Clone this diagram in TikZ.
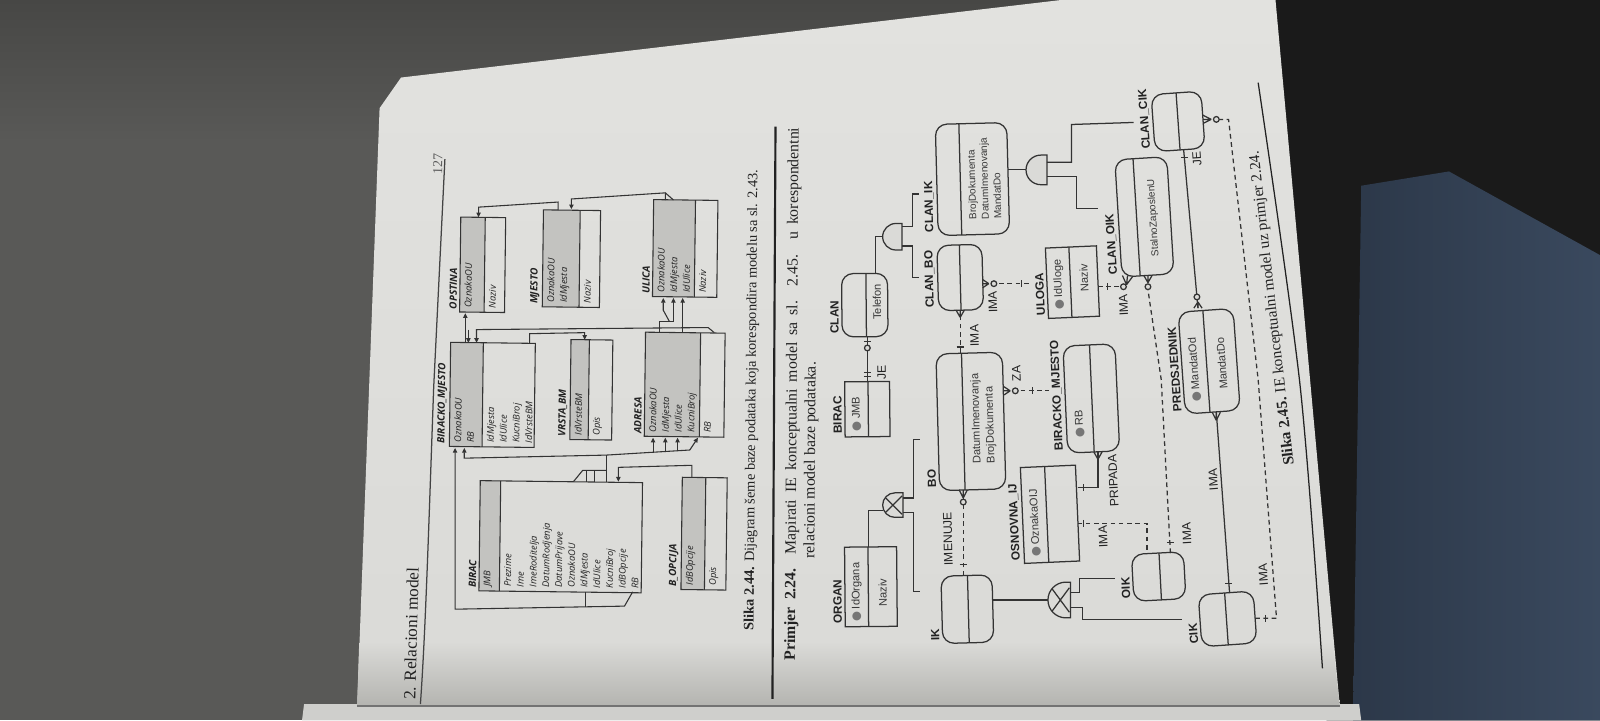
\documentclass[tikz,border=0pt]{standalone}
\usepackage{fontspec}
\setmainfont{Liberation Serif}
\newfontfamily\iefont{Liberation Sans}
\newfontfamily\relfont{Open Sans}
\newfontfamily\symfont{DejaVu Sans}
\usetikzlibrary{calc,arrows.meta}

\definecolor{bgleft}{HTML}{595957}
\definecolor{bgtop}{HTML}{474745}
\definecolor{bgdark}{HTML}{1a1a1a}
\definecolor{fabric}{HTML}{2c3849}
\definecolor{fabriclight}{HTML}{3a495e}
\definecolor{paper}{HTML}{dadad7}
\definecolor{paperlight}{HTML}{e2e2df}
\definecolor{spine}{HTML}{b4b4b0}
\definecolor{facing}{HTML}{cfcfcc}
\definecolor{ink}{HTML}{222222}
\definecolor{lineink}{HTML}{333333}
\definecolor{keygrey}{HTML}{c3c3c0}
\definecolor{icongrey}{HTML}{767676}

\tikzset{
  tline/.style={draw=lineink, line width=0.3pt},
  rtbl/.style={inner sep=0pt, outer sep=0pt, draw=none},
  rtitle/.style={font=\relfont\bfseries\itshape\fontsize{2.8}{3.2}\selectfont, text=ink, inner sep=0.6pt, anchor=south west},
  rattr/.style={font=\relfont\itshape\fontsize{2.6}{3.55}\selectfont, text=ink, inner xsep=1pt, inner ysep=1.1pt, anchor=north west, align=left},
  fk/.style={tline, -{Triangle[length=1.3pt,width=1.2pt]}},
  ent/.style={draw=lineink, line width=0.35pt, inner sep=0pt, outer sep=0pt},
  dep/.style={ent, rounded corners=3.2pt},
  elabel/.style={font=\iefont\bfseries\fontsize{3.3}{4}\selectfont, text=ink, inner sep=0.7pt, anchor=south west},
  eattr/.style={font=\iefont\fontsize{3.1}{3.9}\selectfont, text=ink!90, anchor=west, align=left, inner ysep=0pt},
  esmall/.style={eattr, font=\iefont\fontsize{2.8}{3.5}\selectfont},
  rlabel/.style={font=\iefont\fontsize{3.4}{4}\selectfont, text=ink},
  rel/.style={draw=lineink, line width=0.35pt},
  nrel/.style={rel, dash pattern=on 1.3pt off 1pt},
  sym/.style={draw=lineink, line width=0.35pt},
  body/.style={font=\fontsize{4.4}{5.3}\selectfont, text=ink, inner sep=0pt},
  capt/.style={font=\fontsize{4}{4.8}\selectfont, text=ink, inner sep=0pt},
}

% relational table: name, cx, cy, page width, page height, key fraction, key rows, other rows, title
\def\relang{89.3}
\newcommand\reltable[9]{%
  \node[rtbl, minimum width=#4*0.01cm, minimum height=#5*0.01cm, rotate=\relang] (#1) at (#2,-#3) {};
  \fill[keygrey] (#1.north west) -- (#1.north east) -- ($(#1.north east)!#6!(#1.south east)$) -- ($(#1.north west)!#6!(#1.south west)$) -- cycle;
  \draw[tline] (#1.north west) -- (#1.north east) -- (#1.south east) -- (#1.south west) -- cycle;
  \draw[tline] ($(#1.north west)!#6!(#1.south west)$) -- ($(#1.north east)!#6!(#1.south east)$);
  \node[rattr, rotate=\relang] (#1-key) at (#1.north west) {#7};
  \node[rattr, rotate=\relang] (#1-att) at ($(#1.north west)!#6!(#1.south west)$) {#8};
  \node[rtitle, rotate=\relang] (#1-t) at (#1.north west) {#9};
}
% IE entity: name, style, cx, cy, page width, page height, divider fraction, angle
\newcommand\ieent[8]{%
  \node[#2, minimum width=#5*0.01cm, minimum height=#6*0.01cm, rotate=#8] (#1) at (#3,-#4) {};
  \draw[rel] ($(#1.north west)!#7!(#1.south west)$) -- ($(#1.north east)!#7!(#1.south east)$);
}
% cardinality marks
\newcommand\cbarv[2]{\draw[sym] ({#1-3.5},-#2) -- ({#1+3.5},-#2);}
\newcommand\cbarh[2]{\draw[sym] (#1,{-#2+3.5}) -- (#1,{-#2-3.5});}
\newcommand\czero[2]{\draw[sym, fill=paper] (#1,-#2) circle[radius=2.8];}
\newcommand\ccrowv[3]{\draw[sym] (#1,-#2) -- ({#1-4},-#3) (#1,-#2) -- (#1,-#3) (#1,-#2) -- ({#1+4},-#3);}
\newcommand\ccrowh[3]{\draw[sym] (#2,-#1) -- (#3,{-#1+4}) (#2,-#1) -- (#3,-#1) (#2,-#1) -- (#3,{-#1-4});}
\newcommand\kicon{{\textcolor{icongrey}{\symfont\fontsize{3.2}{3.2}\selectfont ●}}\hspace{0.6pt}}

\begin{document}
\begin{tikzpicture}[x=0.01cm,y=0.01cm]
\useasboundingbox (0,0) rectangle (1568,-706);

% ---------- surroundings ----------
\fill[bgleft] (0,0) rectangle (1568,-706);
\shade[top color=bgtop, bottom color=bgleft] (0,0) rectangle (1260,-140);
\fill[bgdark] (1240,0) -- (1568,0) -- (1568,-706) -- (1300,-706) -- cycle;
\shade[left color=fabric, right color=fabriclight] (1334,-182) -- (1420,-168) -- (1568,-250) -- (1568,-706) -- (1326,-706) -- cycle;
\fill[facing] (298,-690) -- (1332,-690) -- (1334,-706) -- (296,-706) -- cycle;

% ---------- the page ----------
\shade[top color=paperlight, bottom color=paper] (393,-76) -- (1040,0) -- (1250,0) -- (1313,-692) -- (350,-692) -- (372,-106) -- cycle;
\shade[top color=paper, bottom color=spine] (352,-630) -- (1306,-630) -- (1313,-692) -- (350,-692) -- cycle;
\draw[black!55, line width=0.4pt] (350,-692) -- (1313,-692);

% running head
\node[font=\fontsize{4.8}{5.5}\selectfont, text=ink, rotate=88.5] (runhead) at (403,-621) {2. Relacioni model};
\node[font=\fontsize{3.8}{4.5}\selectfont, text=ink!75, rotate=88.5] (pageno) at (429,-161) {127};
\draw[ink!85, line width=0.35pt] (436,-156) -- (425,-380) .. controls (420,-520) and (417,-620) .. (412,-690);

% ---------- relational schema ----------
\reltable{opstina}{473}{259.5}{93}{44}{0.545}{OznakaOU}{Naziv}{OPSTINA}
\reltable{mjesto}{560}{253.5}{95}{56}{0.643}{OznakaOU\\IdMjesta}{Naziv}{MJESTO}
\reltable{ulica}{671.5}{243.5}{95}{63}{0.651}{OznakaOU\\IdMjesta\\IdUlice}{Naziv}{ULICA}
\reltable{bmjesto}{482.5}{387}{102}{83}{0.386}{OznakaOU\\RB}{IdMjesta\\IdUlice\\KucniBroj\\IdVrsteBM}{BIRACKO\_MJESTO}
\reltable{vrstabm}{579.5}{382}{98}{41}{0.439}{IdVrsteBM}{Opis}{VRSTA\_BM}
\reltable{adresa}{671}{377}{102}{78}{0.692}{OznakaOU\\IdMjesta\\IdUlice\\KucniBroj}{RB}{ADRESA}
\reltable{birac}{549.5}{526}{108}{159}{0.126}{JMB}{Prezime\\Ime\\ImeRoditelja\\DatumRodjenja\\DatumPrijave\\OznakaOU\\IdMjesta\\IdUlice\\KucniBroj\\IdBOpcije\\RB}{BIRAC}
\reltable{bopcija}{690}{523}{110}{44}{0.523}{IdBOpcije}{Opis}{B\_OPCIJA}

% foreign keys
\draw[fk] (547,-206) -- (547,-198) -- (469,-203) -- (469,-213);
\draw[fk] (652,-196) -- (652,-189) -- (560,-195) -- (560,-205);
\draw[tline] (652,-189) -- (660,-196);
\draw[fk] (456,-336) -- (456,-307);
\draw[fk] (700,-326) -- (694,-321) -- (467,-323) -- (467,-336);
\draw[fk] (459,-323) -- (459,-336);
\draw[fk] (519,-336) -- (519,-327) -- (573,-326) -- (573,-333);
\draw[fk] (669,-326) -- (669,-292);
\draw[fk] (646,-326) -- (646,-315) -- (660,-315) -- (660,-292);
\draw[fk] (656,-315) -- (650,-304) -- (650,-292);
\draw[fk] (678,-468) -- (678,-456) -- (606,-458) -- (606,-472);
\draw[tline] (594,-472) -- (594,-446);
\draw[tline] (562,-472) -- (571,-461) -- (594,-461);
\draw[tline] (575,-461) -- (575,-472);
\draw[tline] (583,-461) -- (583,-472);
\draw[tline] (594,-446) -- (676,-441);
\draw[fk] (640,-443.5) -- (640,-429);
\draw[fk] (652,-443) -- (652,-429);
\draw[fk] (664,-442) -- (664,-429);
\draw[fk] (676,-441) -- (684,-429);
\draw[fk] (594,-446) -- (455,-449) -- (455,-439);
\draw[fk] (620,-580) -- (612,-594) -- (446,-597) -- (446,-439);
\draw[tline] (574,-580) -- (574,-595);

\node[capt, rotate=89.5] (cap44) at (737,-392) {\textbf{Slika 2.44.} Dijagram šeme baze podataka koja korespondira modelu sa sl. 2.43.};

% ---------- example text ----------
\draw[ink, line width=0.6pt] (757,-685) -- (760,-124);
\node[body, rotate=89.6, anchor=base west] (ex1) at (779,-648) {\makebox[148.5pt][s]{\textbf{Primjer 2.24.}\hspace{4pt}Mapirati IE konceptualni model sa sl. 2.45. u korespondentni}};
\node[body, rotate=89.6, anchor=base west] (ex2) at (798,-548) {relacioni model baze podataka.};

% ---------- IE model ----------
\ieent{organ}{ent}{853.5}{575}{78}{51}{0.45}{90.5}
\ieent{birac2}{ent}{850}{401}{54}{44}{0.52}{90.5}
\ieent{clan}{dep}{847.5}{299}{62}{45}{0.53}{90.5}
\ieent{clanbo}{dep}{941}{272}{64}{44}{0.5}{91.5}
\ieent{clanik}{dep}{953}{175.5}{109}{70}{0.33}{91.5}
\ieent{ik}{dep}{948}{597}{66}{50}{0.52}{91.5}
\ieent{bo}{dep}{951.5}{413}{134}{65}{0.385}{91.5}
\ieent{bm2}{dep}{1069.5}{390.5}{105}{51}{0.51}{92.5}
\ieent{osnovna}{ent}{1029}{504}{94}{54}{0.44}{92.5}
\ieent{uloga}{ent}{1051}{276.5}{69}{50}{0.46}{92.5}
\ieent{oik}{dep}{1135.5}{565}{46}{51}{0.53}{93}
\ieent{clanoik}{dep}{1121.5}{212.5}{115}{51}{0.35}{93.5}
\ieent{clancik}{dep}{1154.5}{119}{56}{49}{0.5}{94}
\ieent{predsj}{dep}{1185}{354}{100}{54}{0.45}{94}
\ieent{cik}{dep}{1203}{606.5}{51}{54}{0.48}{94}

% entity names
\node[elabel, rotate=90.5] (organ-t) at (organ.north west) {ORGAN};
\node[elabel, rotate=90.5] (birac2-t) at (birac2.north west) {BIRAC};
\node[elabel, rotate=90.5] (clan-t) at (clan.north west) {CLAN};
\node[elabel, rotate=91.5] (clanbo-t) at (clanbo.north west) {CLAN\_BO};
\node[elabel, rotate=91.5] (clanik-t) at (clanik.north west) {CLAN\_IK};
\node[elabel, rotate=91.5] (ik-t) at (ik.north west) {IK};
\node[elabel, rotate=91.5] (bo-t) at (bo.north west) {BO};
\node[elabel, rotate=92.5] (bm2-t) at (bm2.north west) {BIRACKO\_MJESTO};
\node[elabel, rotate=92.5] (osnovna-t) at (osnovna.north west) {OSNOVNA\_IJ};
\node[elabel, rotate=92.5] (uloga-t) at (uloga.north west) {ULOGA};
\node[elabel, rotate=93] (oik-t) at (oik.north west) {OIK};
\node[elabel, rotate=93.5] (clanoik-t) at (clanoik.north west) {CLAN\_OIK};
\node[elabel, rotate=94] (clancik-t) at (clancik.north west) {CLAN\_CIK};
\node[elabel, rotate=94] (predsj-t) at (predsj.north west) {PREDSJEDNIK};
\node[elabel, rotate=94] (cik-t) at (cik.north west) {CIK};

% attributes
\node[eattr, rotate=90.5, inner xsep=1.3pt] (organ-k) at ($(organ.north west)!0.225!(organ.south west)$) {\kicon IdOrgana};
\node[eattr, rotate=90.5, inner xsep=5.4pt] (organ-n) at ($(organ.north west)!0.725!(organ.south west)$) {Naziv};
\node[eattr, rotate=90.5, inner xsep=1.4pt] (birac2-k) at ($(birac2.north west)!0.26!(birac2.south west)$) {\kicon JMB};
\node[eattr, rotate=90.5, inner xsep=4.5pt] (clan-a) at ($(clan.north west)!0.765!(clan.south west)$) {Telefon};
\node[esmall, rotate=91.5, inner xsep=4pt] (clanik-a) at ($(clanik.north west)!0.665!(clanik.south west)$) {BrojDokumenta\\DatumImenovanja\\MandatDo};
\node[eattr, rotate=91.5, inner xsep=7pt] (bo-a) at ($(bo.north west)!0.69!(bo.south west)$) {DatumImenovanja\\BrojDokumenta};
\node[eattr, rotate=92.5, inner xsep=4pt] (bm2-k) at ($(bm2.north west)!0.255!(bm2.south west)$) {\kicon RB};
\node[eattr, rotate=92.5, inner xsep=1.4pt] (osnovna-k) at ($(osnovna.north west)!0.22!(osnovna.south west)$) {\kicon OznakaOIJ};
\node[eattr, rotate=92.5, inner xsep=2pt] (uloga-k) at ($(uloga.north west)!0.23!(uloga.south west)$) {\kicon IdUloge};
\node[eattr, rotate=92.5, inner xsep=6.8pt] (uloga-n) at ($(uloga.north west)!0.73!(uloga.south west)$) {Naziv};
\node[esmall, rotate=93.5, inner xsep=5pt] (clanoik-a) at ($(clanoik.north west)!0.675!(clanoik.south west)$) {StalnoZaposlenU};
\node[eattr, rotate=94, inner xsep=3pt] (predsj-k) at ($(predsj.north west)!0.225!(predsj.south west)$) {\kicon MandatOd};
\node[eattr, rotate=94, inner xsep=6pt] (predsj-n) at ($(predsj.north west)!0.725!(predsj.south west)$) {MandatDo};

% ORGAN subtypes BO / IK (exclusive)
\draw[rel] (851,-536) -- (851,-500) -- (865,-500);
\draw[sym, fill=paper] (885,-483) -- (877,-483) arc[start angle=90, end angle=270, radius=12] -- (885,-507) -- cycle;
\draw[sym] (868,-488) -- (884,-504) (868,-502) -- (884,-486);
\draw[rel] (885,-488) -- (895,-488) -- (895,-431) -- (902,-431);
\draw[rel] (885,-502) -- (895,-502) -- (895,-580) -- (902,-580);

% BIRAC -- CLAN : JE
\draw[rel] (850,-374) -- (850,-330);
\cbarv{850}{369} \cbarv{850}{365}
\czero{850}{341} \cbarv{850}{335}
\node[rlabel, rotate=90.5] (je1) at (864,-365) {JE};

% CLAN subtypes CLAN_BO / CLAN_IK
\draw[rel] (858,-268) -- (858,-232) -- (865,-232);
\draw[sym, fill=paper] (884,-219) -- (878,-219) arc[start angle=90, end angle=270, radius=13] -- (884,-245) -- cycle;
\draw[rel] (884,-222) -- (894,-222) -- (894,-190) -- (901,-190);
\draw[rel] (884,-241) -- (894,-241) -- (894,-272) -- (901,-272);

% BO -- CLAN_BO : IMA
\draw[nrel] (941,-346) -- (941,-304);
\cbarv{941}{340}
\ccrowv{941}{311}{304}
\node[rlabel, rotate=91.5] (ima1) at (955,-329) {IMA};

% CLAN_BO -- ULOGA : IMA
\draw[nrel] (963,-278) -- (1010,-278);
\ccrowh{278}{969}{963}
\czero{974}{278}
\cbarh{1001}{278}
\node[rlabel, rotate=91.5] (ima2) at (973,-296) {IMA};

% IK -- BO : IMENUJE
\draw[nrel] (944,-564) -- (944,-480);
\cbarv{944}{553}
\czero{944}{492}
\ccrowv{944}{488}{480}
\node[rlabel, rotate=91.5] (imenuje) at (929,-528) {IMENUJE};

% BO -- BIRACKO_MJESTO : ZA
\draw[nrel] (984,-383) -- (1028,-383);
\ccrowh{383}{990}{984}
\czero{995}{383}
\cbarh{1012}{383}
\node[rlabel, rotate=92] (za) at (996,-366) {ZA};

% OSNOVNA_IJ -- BIRACKO_MJESTO : PRIPADA
\draw[rel] (1056,-478) -- (1076,-478) -- (1076,-443);
\cbarh{1062}{478}
\ccrowv{1076}{450}{443}
\node[rlabel, rotate=92.5] (pripada) at (1091,-471) {PRIPADA};

% OSNOVNA_IJ -- OIK : IMA
\draw[nrel] (1056,-513) -- (1124,-513) -- (1124,-542);
\cbarh{1062}{513}
\node[rlabel, rotate=92.5] (ima3) at (1081,-526) {IMA};

% OIK -- CLAN_OIK : IMA
\draw[nrel] (1147,-542) -- (1138,-372) -- (1125,-284);
\cbarv{1147}{532}
\czero{1125}{281}
\ccrowv{1125}{277}{270}
\node[rlabel, rotate=93] (ima4) at (1163,-523) {IMA};

% ULOGA -- CLAN_OIK : IMA
\draw[nrel] (1076,-281) -- (1098,-281);
\cbarh{1085}{281}
\czero{1101}{281}
\draw[sym] (1104,-279) -- (1100,-270) (1104,-279) -- (1105,-270) (1104,-279) -- (1110,-271);
\node[rlabel, rotate=93] (ima5) at (1101,-299) {IMA};

% CIK -- PREDSJEDNIK : IMA
\draw[rel] (1205,-581) -- (1192,-404);
\cbarv{1204}{572}
\ccrowv{1192}{412}{404}
\node[rlabel, rotate=94] (ima6) at (1189,-470) {IMA};

% CLAN_CIK -- PREDSJEDNIK : JE
\draw[rel] (1160,-147) -- (1174,-302);
\cbarv{1161}{154}
\czero{1173}{291}
\ccrowv{1174}{296}{302}
\node[rlabel, rotate=94] (je2) at (1173,-156) {JE};

% CIK -- CLAN_CIK : IMA
\draw[nrel] (1230,-606) -- (1251,-606) -- (1233,-372) -- (1204,-117) -- (1195,-117);
\cbarh{1240}{606}
\czero{1192}{117}
\ccrowh{117}{1187}{1179}
\node[rlabel, rotate=94] (ima7) at (1238,-563) {IMA};

% IK subtypes OIK / CIK (exclusive)
\draw[rel] (973,-588) -- (1027,-588);
\draw[sym, fill=paper] (1049,-570.5) -- (1044.5,-570.5) arc[start angle=90, end angle=270, radius=17.5] -- (1049,-605.5) -- cycle;
\draw[sym] (1031,-577) -- (1048,-600) (1031,-599) -- (1048,-576);
\draw[rel] (1049,-581) -- (1058,-581) -- (1058,-567) -- (1093,-567);
\draw[rel] (1049,-595) -- (1061,-595) -- (1061,-607) -- (1158,-607);

% CLAN_IK subtypes CLAN_OIK / CLAN_CIK
\draw[rel] (988,-166) -- (1006,-166);
\draw[sym, fill=paper] (1026,-152) -- (1020,-152) arc[start angle=90, end angle=270, radius=14.5] -- (1026,-181) -- cycle;
\draw[rel] (1026,-159) -- (1050,-159) -- (1050,-122) -- (1111,-120);
\draw[rel] (1026,-173) -- (1055,-173) -- (1055,-204) -- (1076,-204);

\node[capt, font=\fontsize{4.3}{5}\selectfont, rotate=96.4] (cap45) at (1247,-302) {\textbf{Slika 2.45.} IE konceptualni model uz primjer 2.24.};
\draw[ink, line width=0.35pt] plot[smooth] coordinates {(1233,-81) (1274,-377) (1296,-655)};

\end{tikzpicture}
\end{document}
